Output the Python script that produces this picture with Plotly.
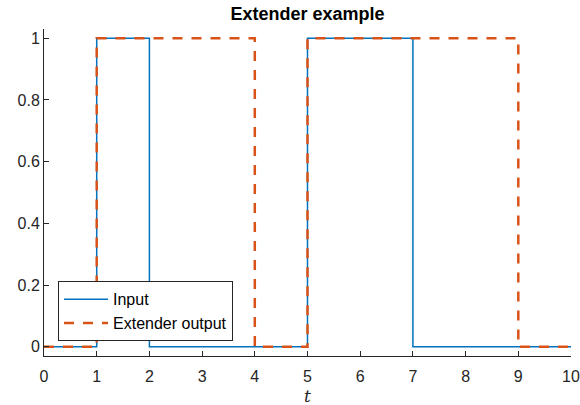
import plotly.graph_objects as go

t_in = [0, 1, 2, 5, 7, 10]
y_in = [0, 1, 0, 1, 0, 0]
t_out = [0, 1, 4, 5, 9, 10]
y_out = [0, 1, 0, 1, 0, 0]
x_ticks = [0, 1, 2, 3, 4, 5, 6, 7, 8, 9, 10]
y_ticks = [0, 0.2, 0.4, 0.6, 0.8, 1]
y_tick_text = ["0", "0.2", "0.4", "0.6", "0.8", "1"]
x_label = "t"

W, H = 580, 405
L, R, T, B = 44, 9, 29, 49
plot_h = H - T - B

fig = go.Figure()
fig.add_trace(go.Scatter(x=t_in, y=y_in, mode="lines", line_shape="hv",
                         name="Input", line=dict(color="#0072BD", width=1.5)))
fig.add_trace(go.Scatter(x=t_out, y=y_out, mode="lines", line_shape="hv",
                         name="Extender output",
                         line=dict(color="#D95319", width=2.5, dash="10px,9px")))

font = "Liberation Sans, Arial, Helvetica, sans-serif"
fig.update_layout(
    width=W, height=H,
    margin=dict(l=L, r=R, t=T, b=B, autoexpand=False),
    paper_bgcolor="white", plot_bgcolor="white",
    font=dict(family=font, size=16, color="#262626"),
    title=dict(text="<b>Extender example</b>", x=0.5, xref="paper", xanchor="center",
               y=1 - 14 / H, yref="container", yanchor="middle",
               font=dict(size=18, color="black"), automargin=False),
    showlegend=True,
    legend=dict(x=0.0266, y=0.045, xanchor="left", yanchor="bottom",
                bgcolor="white", bordercolor="#262626", borderwidth=1,
                font=dict(size=16, color="black"),
                tracegroupgap=0, itemwidth=44),
    xaxis=dict(range=[0, 10], tickvals=x_ticks, showgrid=False, zeroline=False,
               showline=True, linecolor="#262626", linewidth=1,
               ticks="inside", ticklen=5, tickcolor="#262626",
               ticklabelstandoff=6, automargin=False),
    yaxis=dict(range=[-0.03, 1.03], tickvals=y_ticks, ticktext=y_tick_text,
               showgrid=False, zeroline=False, automargin=False,
               showline=True, linecolor="#262626", linewidth=1,
               ticks="inside", ticklen=5, tickcolor="#262626"),
    annotations=[dict(text="<i>" + x_label + "</i>", xref="paper", yref="paper",
                      x=0.5, y=-40 / plot_h, xanchor="center", yanchor="middle",
                      showarrow=False,
                      font=dict(size=17, family="DejaVu Serif, serif", color="#262626"))],
)
fig.write_html("out.html", config={"displayModeBar": False},
               post_script="document.body.style.margin='0';document.body.style.padding='0';")
